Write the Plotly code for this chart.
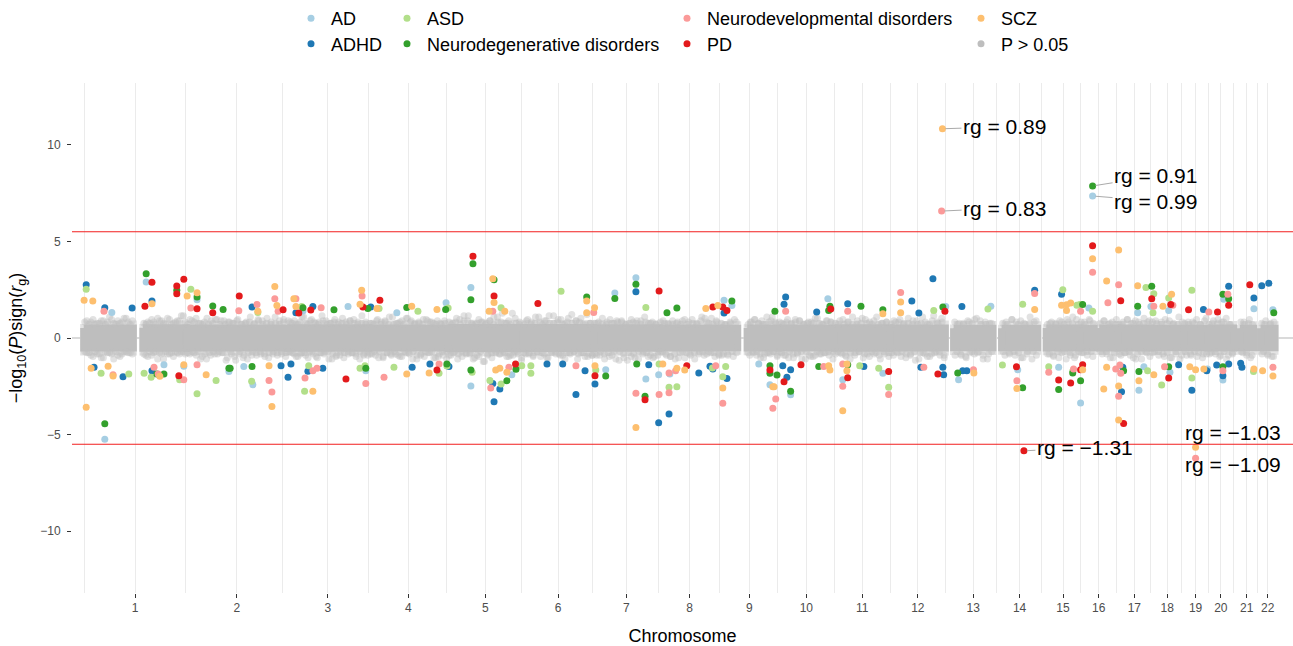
import plotly.graph_objects as go

# ---------------- data ----------------
# chromosome names and the extent of SNP data (cumulative genomic position, Mb)
chrom_names = [str(i) for i in range(1, 23)]
seg_chrom = [1, 1, 2, 3, 4, 5, 6, 7, 8, 9, 9, 10, 11, 12, 13, 14, 15, 16, 16, 17, 18, 19, 20, 21, 22]
seg_start = [1, 144, 250, 493, 691, 882, 1063, 1234, 1393, 1540, 1605, 1681, 1816, 1951, 2104, 2220, 2328, 2410, 2456, 2501, 2582, 2660, 2719, 2796, 2846]
seg_end = [121, 249, 492, 690, 881, 1062, 1233, 1392, 1539, 1582, 1680, 1815, 1950, 2084, 2199, 2307, 2409, 2444, 2500, 2581, 2659, 2718, 2781, 2829, 2881]
# half-height of the dense non-significant (P > 0.05) core, and of its lighter halo, per segment
seg_core = [0.52, 0.53, 0.52, 0.53, 0.52, 0.55, 0.54, 0.53, 0.52, 0.5, 0.52, 0.52, 0.53, 0.52, 0.5, 0.5, 0.52, 0.5, 0.52, 0.52, 0.5, 0.5, 0.52, 0.5, 0.5]
seg_halo = [0.72, 0.73, 0.72, 0.74, 0.72, 0.76, 0.75, 0.74, 0.72, 0.68, 0.71, 0.72, 0.73, 0.72, 0.7, 0.69, 0.71, 0.68, 0.7, 0.71, 0.7, 0.68, 0.7, 0.68, 0.68]
# outlying non-significant points per segment (A..J = +0.70..+1.29, a..j = negative)
seg_fringe = [
    "CbAdEaBcDfAbGcBaDeCaFbAc",
    "BdCaEbAgDcBaFcAeCbDaHc",
    "AcDbFaBeCgAdBcEaDbAfCcBhEaAdCbGaBdDcAeFbCaBdAcEb",
    "DaBcAeCbGdAaEcBfCbDaAgBcEdCaFbAcDbBeCaHcAd",
    "BcAdEaCfDbAcGaBdCeAbFcDaBgCdAeEbCaBfDcAdBa",
    "CdBaFcAeHbDcBgAdEaCiBcDfAbGcCaBeDdJaBcAf",
    "AcEbCdBaGeAcDfBbHaCcEdAbFcBaDgCbAeIcBd",
    "BdCaFcAbEdBgCaDcAhBeCfDaAcGbBdCeAa",
    "CaBdAeDcBfAaEbCdBgAcDaFcBbAeCd",
    "BcAdCaEb",
    "AdCbEaBcDfAbCcGaBd",
    "CbAdEaBfCcDaAgBdCeFaBcAbDdCa",
    "BaDcAeCbGdAaBfEcCaDbAgBcCe",
    "AdCbEaBcFdAaDgBbCeAcHaBdCf",
    "CaBdAeDbBcFaAdCgBa",
    "BdAcEaCbDfAaBgCd",
    "AcCeBaDbAgCdBfEa",
    "CbAdEaB",
    "BcDaAfCbE",
    "AdCbEaBfDcAgBaCe",
    "CaBdAcEbDfBaAgC",
    "BdAcCaEbAfDc",
    "AbDcBeCaFdAc",
    "CbAdBfA",
    "BaDcAeC",
]
seg_fringe2 = [
    "aDbCeAcBfDaCbEgAdBcFaCbD",
    "cAeBdCaFbDgAcEbBaDcHaC",
    "bEaCdBgAcFbDaEcAbDhCaBeDcAfBgCdAbEaDcBfAcGbDaCe",
    "aCbDeAcGbBfDaCeAbHcDaBgCeAdBfCaDbEcAgBdCa",
    "cBaDfAeCbGdAcBeDaFbCgAdBcEaDbCfAeBaDg",
    "dAbCgEaDcHbAfBeCiAdDbGaCcJbBeAdFaCh",
    "bDcAeGaCbDfHaBcEdAgCbIaDcFbAeBd",
    "cBdAgCeBaDhCfAbEcBgDaCeBfAd",
    "aDcBeAgCbDfAcEbBaGdCaFbDc",
    "dAcBeC",
    "bCaEdBfAcGbDaCe",
    "aBdCfAcEbDgAaCeBdFcAbDaCg",
    "cAbEdCgAbDaFcBeAcGdBaCb",
    "bDaCeAfBcDhAbGcAeDbCaFd",
    "dAcBfCaEbDgAcB",
    "aCbEdAfBcGaD",
    "cBdAfCaEbGdA",
    "bCaDe",
    "aDcBfA",
    "cAbEdBgCaFbD",
    "bDaCeBfAcGd",
    "aCdBeAcF",
    "cBaEdCgAb",
    "aCbEd",
    "cAdBe",
]

traits = ["AD", "ADHD", "ASD", "Neurodegenerative disorders",
          "Neurodevelopmental disorders", "PD", "SCZ"]

AD_x = [69, 52, 152, 275, 352, 388, 410, 531, 640, 683, 758, 877, 937, 937, 1036, 1285, 1263, 1336, 1360, 1391,
        1418, 1549, 1568, 1633, 1660, 1710, 1800, 1836, 1933, 2085, 2194, 2259, 2358, 2411, 2431, 2549, 2552,
        2564, 2581, 2624, 2627, 2718, 2755, 2757, 2830, 2876, 195, 243, 2116]
AD_y = [1.32, -5.24, 2.9, 1.98, -1.74, -1.48, -2.42, 1.40, 1.63, -1.69, 1.31, 1.83, 2.61, -2.48, -1.9, 2.33, -1.64,
        3.12, -2.12, -1.9, -1.86, 1.95, 1.68, -1.34, -2.42, -2.94, 2.03, -2.16, -1.83, 1.63, 1.65, -1.64, -1.52,
        -3.37, 1.55, 1.31, -2.7, -1.49, 1.63, 1.43, -1.77, -1.6, -2.17, 2.0, 1.52, 1.46, -1.39, -1.46, -2.16]

ADHD_x = [7, 52, 118, 26, 96, 166, 166, 408, 514, 555, 478, 502, 495, 543, 579, 695, 795, 838, 884, 990, 993, 1007,
          1121, 1159, 1191, 1213, 1237, 1336, 1367, 1391, 1416, 1488, 1515, 1522, 1549, 1556, 1691, 1710, 1701,
          1698, 1694, 1773, 1848, 1887, 2003, 2020, 2025, 2054, 2078, 2080, 2124, 2136, 2300, 2365, 2510, 2513,
          2648, 2680, 2708, 2716, 2740, 2755, 2769, 2769, 2798, 2801, 2830, 2849, 2866, 2126]
ADHD_y = [2.76, 1.57, 1.55, -1.52, -2.0, 1.92, -1.69, 1.6, 1.31, 1.63, -1.43, -1.34, -2.03, -1.72, -1.57, 1.6, -1.52,
          -1.34, -1.48, -2.35, -3.3, -2.64, -1.34, -1.34, -2.92, -1.69, -2.38, 2.4, -1.38, -4.39, -3.94, -1.81,
          -1.46, -1.6, 1.29, -2.09, -1.43, -1.64, -2.03, 2.12, 1.75, 1.34, 1.77, -1.48, 1.91, 1.29, -1.52, 3.07,
          -1.52, -1.9, 1.63, -1.69, 2.47, 2.26, -2.78, -1.52, -1.38, -2.7, 1.48, -1.69, -1.4, -1.95, 2.68, -1.34,
          -1.31, -1.52, 2.07, 2.71, 2.83, -1.69]

ASD_x = [7, 43, 110, 147, 164, 233, 260, 275, 321, 407, 422, 528, 535, 545, 715, 669, 681, 809, 751, 882, 860, 879,
         940, 983, 1010, 1010, 1060, 1082, 1082, 1155, 1239, 1360, 1392, 1416, 1435, 1521, 1553, 1546, 1923, 1877,
         1947, 2056, 2222, 2187, 2271, 2334, 2368, 2402, 2409, 2440, 2392, 2569, 2588, 2586, 2573, 2607, 2624,
         2680, 2680, 2829]
ASD_y = [2.52, -1.83, -1.86, -1.83, -2.03, -2.16, 2.52, -2.88, -2.2, -2.24, 1.32, 1.63, -2.76, -1.43, 1.53, -1.57,
         -1.43, 1.39, -1.52, 1.55, -1.82, -1.45, -1.77, -2.2, 1.57, -2.38, -1.43, -1.43, -1.83, 2.42, -1.65, 1.58,
         -1.34, -2.55, -2.52, -1.55, -1.48, -2.0, -1.57, -1.43, -2.55, 1.43, -1.4, 1.5, 1.75, -1.49, 2.5, 1.69,
         1.74, 1.38, -1.72, 2.61, 2.29, 1.31, -1.69, -2.43, 2.07, 2.47, -2.07, -1.74]

NDG_x = [52, 152, 226, 275, 178, 195, 313, 338, 352, 355, 408, 531, 606, 688, 683, 782, 876, 879, 937, 942, 993, 937,
         1024, 1046, 1217, 1285, 1263, 1336, 1338, 1358, 1411, 1435, 1568, 1672, 1660, 1660, 1677, 1710, 1805, 1802,
         1778, 1848, 1880, 1933, 2078, 2114, 2271, 2358, 2416, 2392, 2411, 2515, 2549, 2583, 2552, 2624, 2755,
         2769, 2755, 2878]
NDG_y = [-4.44, 3.33, 2.47, 2.12, -1.86, -1.86, 1.66, 1.48, -1.57, -1.57, -1.48, 1.57, 1.46, 1.53, -1.57, 1.58, 1.48,
         -1.34, 1.98, 3.85, 3.02, -1.65, -2.21, -1.62, 2.12, 2.05, -1.97, 2.78, -1.34, -3.02, 1.31, 1.55, 1.92, 1.38,
         -1.43, -1.83, -1.91, -2.76, 1.64, 1.43, -1.48, -1.38, 1.64, 1.46, 1.6, -1.81, -2.57, -2.66, 1.74, -1.81,
         -2.21, -1.69, 1.65, 2.68, -1.74, -1.49, 2.26, 2.03, -1.49, 1.31]

NDV_x = [50, 72, 171, 181, 243, 260, 275, 376, 420, 463, 471, 449, 456, 514, 575, 536, 555, 565, 674, 683, 727, 860,
         990, 985, 1029, 1191, 1234, 1336, 1392, 1416, 1416, 1432, 1529, 1546, 1698, 1674, 1667, 1790, 1848, 1836,
         1836, 1947, 1976, 2032, 2152, 2300, 2257, 2334, 2411, 2394, 2440, 2496, 2477, 2503, 2506, 2508, 2503,
         2588, 2634, 2614, 2721, 2767, 2755, 2876]
NDV_y = [1.39, -1.9, -1.52, -1.86, -2.16, 1.55, -1.38, 1.41, 1.74, 2.03, 1.38, -2.2, -2.8, 2.03, 1.57, -2.07, -1.69,
         -1.57, 2.17, -2.35, -2.03, -1.34, 1.39, -2.59, -1.52, -1.43, 1.32, -2.86, -2.92, -1.81, -2.83, -1.69,
         -1.43, -3.38, 1.39, -3.16, -3.64, -1.48, 1.38, -1.34, -2.5, -2.93, 2.35, -1.52, -1.64, 2.3, -2.21, -1.77,
         1.39, -1.6, 3.4, -1.6, 1.83, 2.76, -1.4, -1.83, -3.02, 1.65, 1.69, -1.49, 1.35, 2.26, -1.69, -1.52]

PD_x = [166, 149, 226, 226, 243, 275, 313, 377, 483, 521, 550, 231, 635, 676, 717, 855, 942, 993, 1045, 1099, 1237,
        1358, 1392, 1459, 1522, 1546, 1556, 1660, 1694, 1735, 1807, 1848, 1947, 2066, 2083, 2256, 2358, 2387, 2416,
        2411, 2440, 2508, 2515, 2583, 2629, 2624, 2672, 2742, 2769, 2820]
PD_y = [2.88, 1.64, 2.69, 2.29, 3.04, 1.52, 1.31, 2.17, 1.46, 1.29, 1.45, -1.95, -2.12, 1.6, 1.96, -1.65, 4.23, 2.17,
        -1.34, 1.79, -1.95, -3.19, 2.43, -1.43, 1.6, 1.6, 1.43, -1.65, -2.26, -1.38, 1.5, -2.06, -1.74, -1.86, 1.38,
        -1.49, -2.17, -2.33, -1.38, -1.64, 4.77, 1.93, -4.43, 2.03, 1.74, -2.07, 1.46, 1.35, 1.69, 2.76]

SCZ_x = [2, 23, 19, 60, 72, 7, 166, 185, 251, 275, 243, 297, 422, 463, 468, 509, 514, 449, 456, 555, 673, 669, 710,
         794, 855, 782, 836, 981, 990, 993, 1019, 997, 1007, 1024, 1217, 1217, 1236, 1237, 1336, 1401, 1435, 1454,
         1505, 1534, 1546, 1667, 1670, 1802, 1805, 1846, 1846, 1836, 1933, 1976, 1976, 2153, 2257, 2300, 2365,
         2377, 2387, 2377, 2416, 2440, 2503, 2474, 2467, 2474, 2503, 2503, 2549, 2552, 2588, 2610, 2631, 2675,
         2689, 2709, 2830, 2851, 2876]
SCZ_y = [1.95, 1.91, -1.57, -1.46, -1.97, -3.58, 1.77, -1.98, 2.17, 2.34, -1.38, -1.9, 1.39, 2.67, 1.68, 2.03, 1.63,
         -1.43, -3.54, -2.76, 2.47, 1.75, 1.53, 1.64, 1.48, -1.86, -1.81, 1.39, 3.07, 1.84, 1.39, -1.65, -1.57,
         -1.77, 1.91, 1.31, 1.57, -1.43, -4.63, -1.34, -1.57, -1.65, 1.53, 1.68, -2.59, -2.52, -2.52, -1.43, -1.65,
         -1.34, -1.69, -3.76, 1.26, 1.86, 1.31, -1.81, -2.61, 1.48, 1.69, 1.72, 1.81, 1.43, -1.64, 4.1, 4.55, 2.95,
         -2.64, -1.52, -2.49, -4.25, 2.7, -2.21, -1.9, 1.65, 2.26, -1.49, -1.64, -1.6, -1.6, -1.69, -1.97]

# genome-wide significant regions with their genetic correlation labels
hit_trait = ["SCZ", "Neurodevelopmental disorders", "Neurodegenerative disorders", "AD", "PD", "SCZ",
             "Neurodevelopmental disorders"]
hit_x = [2077, 2075, 2440, 2440, 2274, 2689, 2689]
hit_y = [10.83, 6.57, 7.87, 7.35, -5.84, -5.66, -6.23]
hit_rg = ["0.89", "0.83", "0.91", "0.99", "−1.31", "−1.03", "−1.09"]

sig_threshold = 5.5
y_ticks = [-10, -5, 0, 5, 10]

# ---------------- styling ----------------
colors = {"AD": "#a6cee3", "ADHD": "#1f78b4", "ASD": "#b2df8a", "Neurodegenerative disorders": "#33a02c",
          "Neurodevelopmental disorders": "#fb9a99", "PD": "#e31a1c", "SCZ": "#fdbf6f"}
gray = "#bebebe"
FONT = "Liberation Sans, Arial, Helvetica, sans-serif"

series = {"AD": (AD_x, AD_y), "ADHD": (ADHD_x, ADHD_y), "ASD": (ASD_x, ASD_y),
          "Neurodegenerative disorders": (NDG_x, NDG_y), "Neurodevelopmental disorders": (NDV_x, NDV_y),
          "PD": (PD_x, PD_y), "SCZ": (SCZ_x, SCZ_y)}

fig = go.Figure()


def band(heights):
    bx, by = [], []
    for a, b, h in zip(seg_start, seg_end, heights):
        bx += [a, b, b, a, a, None]
        by += [h, h, -h, -h, h, None]
    return bx, by


# lighter halo and dense core of non-significant points
for hts, col in ((seg_halo, "#e3e3e3"), (seg_core, gray)):
    bx, by = band(hts)
    fig.add_trace(go.Scatter(x=bx, y=by, mode="lines", fill="toself", fillcolor=col,
                             line=dict(color=col, width=7), showlegend=False, hoverinfo="skip"))

# scattered non-significant points
gx, gy = [], []
for strings in (seg_fringe, seg_fringe2):
    for a, b, s in zip(seg_start, seg_end, strings):
        n = len(s)
        for i, ch in enumerate(s):
            mag = 0.70 + 0.065 * (ord(ch.upper()) - ord("A"))
            gx.append(a + (b - a) * (i + 0.5) / n)
            gy.append(mag if ch.isupper() else -mag)
fig.add_trace(go.Scatter(x=gx, y=gy, mode="markers", showlegend=False, hoverinfo="skip",
                         marker=dict(size=7, color="rgba(190,190,190,0.45)", line=dict(width=0))))

legend_ids = {"AD": "legend", "ADHD": "legend2", "ASD": "legend3", "Neurodegenerative disorders": "legend4",
              "Neurodevelopmental disorders": "legend5", "PD": "legend6", "SCZ": "legend7"}

for t in traits:
    xs, ys = list(series[t][0]), list(series[t][1])
    for ht, hx, hy in zip(hit_trait, hit_x, hit_y):
        if ht == t:
            xs.append(hx)
            ys.append(hy)
    fig.add_trace(go.Scatter(x=xs, y=ys, mode="markers", name=t, legend=legend_ids[t],
                             marker=dict(size=7, color=colors[t], line=dict(width=0))))

fig.add_trace(go.Scatter(x=[None], y=[None], mode="markers", name="P > 0.05", legend="legend8",
                         marker=dict(size=7, color=gray, line=dict(width=0))))

# chromosome tick positions (centre of each chromosome's data)
centers = []
for c in range(1, 23):
    st = [s for s, k in zip(seg_start, seg_chrom) if k == c]
    en = [e for e, k in zip(seg_end, seg_chrom) if k == c]
    centers.append((min(st) + max(en)) / 2)
minor_vals = [centers[0] - (centers[1] - centers[0]) / 2]
for i in range(len(centers) - 1):
    minor_vals.append((centers[i] + centers[i + 1]) / 2)

# labels
label_style = [dict(ax=62, ay=-2), dict(ax=63, ay=-3), dict(ax=63, ay=-10), dict(ax=63, ay=5),
               dict(ax=61, ay=-3), dict(xshift=37, yshift=15), dict(xshift=37, yshift=-6)]
for hx, hy, rg, st in zip(hit_x, hit_y, hit_rg, label_style):
    common = dict(x=hx, y=hy, xref="x", yref="y", text="rg = " + rg,
                  font=dict(family=FONT, size=21, color="black"))
    if "ax" in st:
        fig.add_annotation(**common, showarrow=True, arrowhead=0, arrowwidth=1, arrowcolor="#aaaaaa",
                           standoff=3, ax=st["ax"], ay=st["ay"])
    else:
        fig.add_annotation(**common, showarrow=False, xshift=st["xshift"], yshift=st["yshift"])

# reference lines
fig.add_shape(type="line", xref="paper", x0=0, x1=1, yref="y", y0=0, y1=0,
              line=dict(color="#b5b5b5", width=1), layer="below")
for yv in (sig_threshold, -sig_threshold):
    fig.add_shape(type="line", xref="paper", x0=0, x1=1, yref="y", y0=yv, y1=yv,
                  line=dict(color="#f21f1f", width=1), layer="above")

W, H = 1293, 646
ML, MR, MT, MB = 72, 0, 83, 53
PW, PH = W - ML - MR, H - MT - MB


def px_to_paper_x(px):
    return (px - ML) / PW


def px_to_paper_y(py):
    return (H - MB - py) / PH


leg_cols = [291, 387, 667, 961]
leg_rows = [18, 44]
leg_layout = {}
order = ["AD", "ADHD", "ASD", "Neurodegenerative disorders", "Neurodevelopmental disorders", "PD", "SCZ",
         "P > 0.05"]
for i, name in enumerate(order):
    key = "legend" if i == 0 else "legend%d" % (i + 1)
    leg_layout[key] = dict(x=px_to_paper_x(leg_cols[i // 2]), y=px_to_paper_y(leg_rows[i % 2]),
                           xanchor="left", yanchor="middle", orientation="v",
                           bgcolor="rgba(0,0,0,0)", borderwidth=0,
                           font=dict(family=FONT, size=18, color="black"))

fig.update_layout(
    width=W, height=H,
    margin=dict(l=ML, r=MR, t=MT, b=MB),
    paper_bgcolor="white", plot_bgcolor="white",
    font=dict(family=FONT, color="black"),
    showlegend=True,
    **leg_layout,
)

fig.update_xaxes(
    range=[-27.3, 2924.5], tickmode="array", tickvals=centers, ticktext=chrom_names,
    showgrid=True, gridcolor="#ebebeb", gridwidth=1,
    minor=dict(tickmode="array", tickvals=minor_vals, showgrid=True, gridcolor="#ebebeb", gridwidth=0.7,
               ticks=""),
    ticks="outside", ticklen=4, tickwidth=1, tickcolor="#333333",
    tickfont=dict(family=FONT, size=12, color="#4d4d4d"),
    zeroline=False, showline=False, automargin=False,
    title=dict(text="Chromosome", font=dict(family=FONT, size=18, color="black"), standoff=14),
)
fig.update_yaxes(
    range=[-13.2, 13.2], tickmode="array", tickvals=y_ticks,
    ticktext=[("−" + str(-v)) if v < 0 else str(v) for v in y_ticks],
    showgrid=False, zeroline=False, showline=False, automargin=False,
    ticks="outside", ticklen=4, tickwidth=1, tickcolor="#333333", ticklabelstandoff=4,
    tickfont=dict(family=FONT, size=12, color="#4d4d4d"),
    title=dict(text="−log<sub>10</sub>(<i>P</i>)sign(<i>r</i><sub>g</sub>)",
               font=dict(family=FONT, size=18, color="black"), standoff=12),
)

fig.write_html("out.html", config={"displayModeBar": False},
               post_script="document.body.style.margin='0';document.body.style.padding='0';"
                           "document.body.style.overflow='hidden';")
